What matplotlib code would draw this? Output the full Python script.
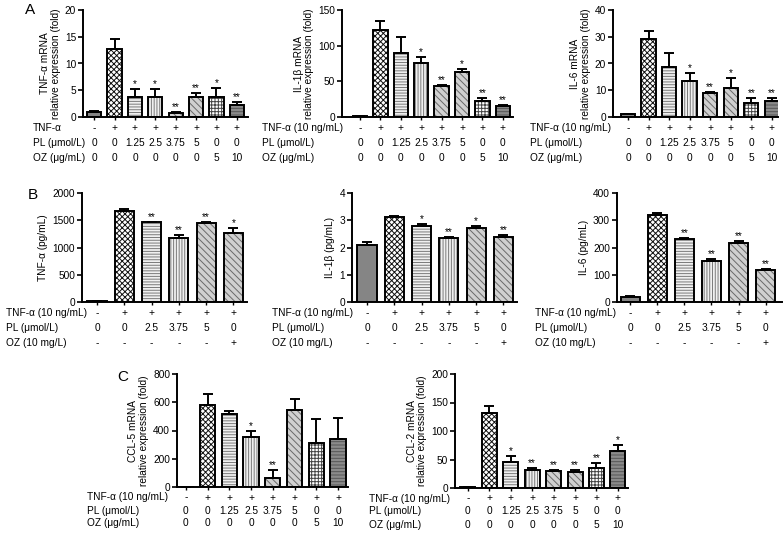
import numpy as np
import matplotlib
matplotlib.use("Agg")
import matplotlib.pyplot as plt
from matplotlib.transforms import ScaledTranslation

FS = 7.3
plt.rcParams['font.family'] = ['Liberation Sans', 'DejaVu Sans']
plt.rcParams['font.size'] = FS
plt.rcParams['hatch.linewidth'] = 0.7

# ---- data ----
# panel A: mRNA, 8 groups
a_tnf_vals = [1.0, 12.8, 3.8, 3.8, 0.7, 3.8, 3.8, 2.2]
a_tnf_err = [0.1, 1.7, 1.4, 1.4, 0.2, 0.7, 1.6, 0.6]
a_tnf_stars = ['', '', '*', '*', '**', '**', '*', '**']

a_il1_vals = [1, 122, 90, 76, 44, 63, 23, 15]
a_il1_err = [0.5, 13, 22, 8, 1, 4, 3, 1.5]
a_il1_stars = ['', '', '', '*', '**', '*', '**', '**']

a_il6_vals = [1, 29.3, 18.8, 13.5, 8.8, 11, 5.3, 5.8]
a_il6_err = [0.2, 3, 5.2, 3, 0.5, 3.5, 1.7, 1.4]
a_il6_stars = ['', '', '', '*', '**', '*', '**', '**']

# panel B: protein, 6 groups
b_tnf_vals = [10, 1670, 1460, 1170, 1450, 1270]
b_tnf_err = [5, 30, 10, 60, 10, 90]
b_tnf_stars = ['', '', '**', '**', '**', '*']

b_il1_vals = [2.1, 3.12, 2.8, 2.35, 2.73, 2.38]
b_il1_err = [0.12, 0.05, 0.05, 0.05, 0.05, 0.07]
b_il1_stars = ['', '', '*', '**', '*', '**']

b_il6_vals = [20, 318, 230, 150, 215, 118]
b_il6_err = [2, 10, 5, 7, 10, 4]
b_il6_stars = ['', '', '**', '**', '**', '**']

# panel C: chemokine mRNA, 8 groups
c_ccl5_vals = [1, 580, 520, 355, 65, 545, 310, 340]
c_ccl5_err = [1, 75, 20, 40, 55, 75, 170, 150]
c_ccl5_stars = ['', '', '', '*', '**', '', '', '']

c_ccl2_vals = [1, 132, 45, 31, 29, 28, 35, 65]
c_ccl2_err = [0.5, 11, 11, 4, 2, 3, 8, 11]
c_ccl2_stars = ['', '', '*', '**', '**', '**', '**', '*']

# treatment rows
rows8_tnf = ['-', '+', '+', '+', '+', '+', '+', '+']
rows8_pl = ['0', '0', '1.25', '2.5', '3.75', '5', '0', '0']
rows8_oz = ['0', '0', '0', '0', '0', '0', '5', '10']
rows6_tnf = ['-', '+', '+', '+', '+', '+']
rows6_pl = ['0', '0', '2.5', '3.75', '5', '0']
rows6_oz = ['-', '-', '-', '-', '-', '+']

titles_a1 = ['TNF-α', 'PL (μmol/L)', 'OZ (μg/mL)']
titles_8 = ['TNF-α (10 ng/mL)', 'PL (μmol/L)', 'OZ (μg/mL)']
titles_6 = ['TNF-α (10 ng/mL)', 'PL (μmol/L)', 'OZ (10 mg/L)']

# bar styles: (facecolor, hatch, hatchcolor)
sty_ctrl = ('#858585', '', '#858585')
sty_tnf = ('white', 'xxxxxx', '#111111')
sty_h = ('#f0f0f0', '------', '#7a7a7a')
sty_v = ('#f0f0f0', '||||||', '#7a7a7a')
sty_d = ('#d0d0d0', '\\\\\\\\\\', '#6a6a6a')
sty_grid = ('white', '+++++', '#444444')
sty_dark = ('#8a8a8a', '-----', '#555555')
styles8 = [sty_ctrl, sty_tnf, sty_h, sty_v, sty_d, sty_d, sty_grid, sty_dark]
styles6 = [sty_ctrl, sty_tnf, sty_h, sty_v, sty_d, sty_d]

W, H = 784, 535
fig = plt.figure(figsize=(W / 100, H / 100), dpi=100)


def px_axes(l, t, r, b):
    return fig.add_axes([l / W, 1 - b / H, (r - l) / W, (b - t) / H])


def panel(rect, vals, err, stars, styles, yticks, ylabel, rows, titles,
          xlim, title_dx, row_dy):
    ax = px_axes(*rect)
    x = np.arange(len(vals))
    for xi, v, (fc, hatch, hc) in zip(x, vals, styles):
        ax.bar(xi, v, width=0.7, color=fc, hatch=hatch, edgecolor=hc,
               linewidth=0, zorder=2)
    ax.bar(x, vals, width=0.7, fill=False, edgecolor='black', linewidth=1.4,
           zorder=3)
    ax.errorbar(x, vals, yerr=[np.zeros(len(vals)), err], fmt='none',
                ecolor='black', elinewidth=1.4, capsize=3.5, capthick=1.4,
                zorder=4)
    for xi, v, e, s in zip(x, vals, err, stars):
        if s:
            ax.annotate(s, (xi, v + e), xytext=(0, 0), textcoords='offset points',
                        ha='center', va='bottom', fontsize=FS)
    ax.set_ylim(yticks[0], yticks[-1])
    ax.set_yticks(yticks)
    ax.set_xlim(*xlim)
    ax.set_xticks(x)
    ax.set_xticklabels([])
    ax.tick_params(axis='x', length=2.5, width=1.0, direction='out')
    ax.tick_params(axis='y', length=3.5, width=1.2, labelsize=FS, pad=1.5)
    ax.spines['top'].set_visible(False)
    ax.spines['right'].set_visible(False)
    for sp in ('left', 'bottom'):
        ax.spines[sp].set_linewidth(1.4)
    ax.set_ylabel(ylabel, fontsize=FS, labelpad=3, linespacing=1.05)
    # treatment table under the axis
    for k, (row, title) in enumerate(zip(rows, titles)):
        dy = row_dy[k] * 0.72 / 72
        tr = ax.get_xaxis_transform() + ScaledTranslation(0, -dy, fig.dpi_scale_trans)
        for xi, s in zip(x, row):
            ax.text(xi, 0, s, transform=tr, ha='center', va='center', fontsize=FS)
        trt = ax.transAxes + ScaledTranslation(title_dx * 0.72 / 72, -dy,
                                                fig.dpi_scale_trans)
        ax.text(0, 0, title, transform=trt, ha='left', va='center', fontsize=FS)
    return ax


rowsA = (11, 26, 41)
rowsC = (10.5, 23.5, 36.5)
fold = '\nrelative expression (fold)'

panel((83, 10, 248, 117), a_tnf_vals, a_tnf_err, a_tnf_stars, styles8,
      [0, 5, 10, 15, 20], 'TNF-α mRNA' + fold,
      [rows8_tnf, rows8_pl, rows8_oz], titles_a1, (-0.55, 7.55), -50, rowsA)
panel((342, 10, 513, 117), a_il1_vals, a_il1_err, a_il1_stars, styles8,
      [0, 50, 100, 150], 'IL-1β mRNA' + fold,
      [rows8_tnf, rows8_pl, rows8_oz], titles_8, (-0.88, 7.5), -80, rowsA)
panel((613, 10, 778, 117), a_il6_vals, a_il6_err, a_il6_stars, styles8,
      [0, 10, 20, 30, 40], 'IL-6 mRNA' + fold,
      [rows8_tnf, rows8_pl, rows8_oz], titles_8, (-0.73, 7.3), -83, rowsA)

panel((82, 193, 247, 302), b_tnf_vals, b_tnf_err, b_tnf_stars, styles6,
      [0, 500, 1000, 1500, 2000], 'TNF-α (pg/mL)',
      [rows6_tnf, rows6_pl, rows6_oz], titles_6, (-0.55, 5.5), -76, rowsA)
panel((352, 193, 517, 302), b_il1_vals, b_il1_err, b_il1_stars, styles6,
      [0, 1, 2, 3, 4], 'IL-1β (pg/mL)',
      [rows6_tnf, rows6_pl, rows6_oz], titles_6, (-0.55, 5.5), -80, rowsA)
panel((617, 193, 782, 302), b_il6_vals, b_il6_err, b_il6_stars, styles6,
      [0, 100, 200, 300, 400], 'IL-6 (pg/mL)',
      [rows6_tnf, rows6_pl, rows6_oz], titles_6, (-0.48, 5.6), -82, rowsA)

panel((177, 374, 348, 487), c_ccl5_vals, c_ccl5_err, c_ccl5_stars, styles8,
      [0, 200, 400, 600, 800], 'CCL-5 mRNA' + fold,
      [rows8_tnf, rows8_pl, rows8_oz], titles_8, (-0.41, 7.46), -90, rowsC)
panel((455, 374, 628, 488), c_ccl2_vals, c_ccl2_err, c_ccl2_stars, styles8,
      [0, 50, 100, 150, 200], 'CCL-2 mRNA' + fold,
      [rows8_tnf, rows8_pl, rows8_oz], titles_8, (-0.6, 7.47), -86, rowsC)

# panel letters
fig.text(25 / W, 1 - 3 / H, 'A', fontsize=11, va='top', ha='left')
fig.text(28 / W, 1 - 188 / H, 'B', fontsize=11, va='top', ha='left')
fig.text(117 / W, 1 - 370 / H, 'C', fontsize=11, va='top', ha='left')

fig.savefig('out.png', dpi=100)
